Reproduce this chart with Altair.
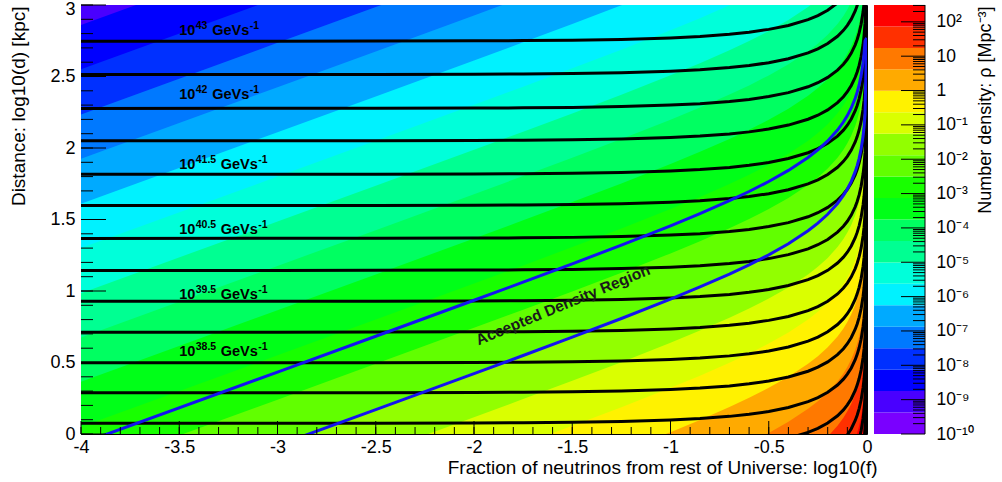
import math
import altair as alt
import pandas as pd

FONT = "Liberation Sans"

# ---------------- data ----------------
# colour bands of the density map (lowest density first, ROOT palette)
BAND_COLORS = ["#7a00ff", "#4900ff", "#0000ff", "#0030ff", "#0079ff", "#00aaff",
               "#00f2ff", "#00ffda", "#00ff92", "#00ff61", "#00ff18", "#18ff00",
               "#61ff00", "#92ff00", "#daff00", "#fff200", "#ffaa00", "#ff7900",
               "#ff3000", "#ff0000"]
# log10(rho) contour levels shown on the colour bar (bottom to top)
CBAR_LEVELS = [-10.0, -9.376, -8.751, -8.127, -7.502, -6.878, -6.253, -5.629,
               -5.004, -4.380, -3.755, -3.131, -2.506, -1.882, -1.257, -0.633,
               -0.008, 0.617, 1.241, 1.866, 2.49]
# contour boundaries in the map: x-offset of each boundary line (slope 0.5)
BAND_OFFSETS = [-10.35, -9.72, -9.10, -8.47, -7.85, -7.22, -6.60, -5.97, -5.35,
                -4.73, -4.10, -3.48, -2.86, -2.23, -1.60, -0.98, -0.35, 0.27, 0.90]
BAND_SLOPE = 0.5
# upturn of every curve towards log10(f) = 0 (rise above its flat level)
RISE_X = [-4.0, -3.0, -2.5, -2.0, -1.75, -1.5, -1.25, -1.0, -0.85, -0.7, -0.6,
          -0.5, -0.4, -0.3, -0.25, -0.2, -0.15, -0.12, -0.1, -0.08, -0.06, -0.05,
          -0.04, -0.03, -0.02, -0.015, -0.01, -0.006, -0.003, -0.001, 0.0]
RISE_Y = [0.0, 0.0002, 0.0007, 0.0022, 0.0039, 0.007, 0.0126, 0.0229, 0.0331,
          0.0483, 0.0628, 0.0826, 0.1102, 0.151, 0.1794, 0.2165, 0.2673, 0.3086,
          0.3434, 0.387, 0.4446, 0.4818, 0.5278, 0.5878, 0.6734, 0.7346, 0.8214,
          0.9313, 1.0812, 1.319, 5.0]
# flat level (left side) of each constant-luminosity curve
LUM_LEVELS = [2.747, 2.514, 2.277, 2.050, 1.816, 1.598, 1.368, 1.144, 0.928,
              0.712, 0.498, 0.288, 0.075, -0.14, -0.35, -0.565, -0.78, -0.995,
              -1.21, -1.42]
# luminosity labels: 10^exp GeVs^-1
LUM_EXPONENTS = ["43", "42", "41.5", "40.5", "39.5", "38.5"]
LUM_LABEL_X = [-3.5, -3.5, -3.5, -3.5, -3.5, -3.5]
LUM_LABEL_Y = [2.79, 2.34, 1.851, 1.397, 0.942, 0.545]
# accepted density region (blue lines): offset of each line, end point at f -> 1
BLUE_OFFSETS = [-3.866, -2.84]
BLUE_LAST_X = -0.01
BLUE_END_X = -0.002
BLUE_END_Y = 2.77
REGION_LABEL = ["Accepted Density Region"]
REGION_X = [-1.547]
REGION_Y = [0.902]
# axes
X_TICKS = [-4, -3.5, -3, -2.5, -2, -1.5, -1, -0.5, 0]
Y_TICKS = [0, 0.5, 1, 1.5, 2, 2.5, 3]
CBAR_TICKS = list(range(-10, 3))
CBAR_TICK_LABELS = ["10\u207b\u00b9\u2070", "10\u207b\u2079", "10\u207b\u2078",
                    "10\u207b\u2077", "10\u207b\u2076", "10\u207b\u2075",
                    "10\u207b\u2074", "10\u207b\u00b3", "10\u207b\u00b2",
                    "10\u207b\u00b9", "1", "10", "10\u00b2"]
X_TITLE = "Fraction of neutrinos from rest of Universe: log10(f)"
Y_TITLE = "Distance: log10(d) [kpc]"
Z_TITLE = "Number density: \u03c1 [Mpc\u207b\u00b3]"

# ---------------- layout ----------------
W, H = 786, 429
CB_W = 51

minus_fix = "replace(format(datum.value, '~g'), '\u2212', '-')"

X_AX = alt.Axis(values=X_TICKS, labelExpr=minus_fix, ticks=False, tickSize=0,
                domain=False, grid=False, labelFontSize=18, labelPadding=4,
                labelFlush=False, labelOverlap=False, labelColor="black",
                title=X_TITLE, titleFontSize=19, titleFontWeight="normal",
                titleX=796, titleY=39, titleAlign="right",
                titleBaseline="alphabetic", titleColor="black")
Y_AX = alt.Axis(values=Y_TICKS, labelExpr=minus_fix, ticks=False, tickSize=0,
                domain=False, grid=False, labelFontSize=18, labelPadding=6,
                labelFlush=False, labelOverlap=False, labelColor="black",
                labelOffset={"condition": {"test": "datum.value == 3", "value": 4},
                             "value": 0},
                title=Y_TITLE, titleFontSize=19, titleFontWeight="normal",
                titleAngle=270, titleX=-63, titleY=1, titleAlign="right",
                titleBaseline="middle", titleColor="black")

xs = alt.Scale(domain=[-4, 0], nice=False, zero=False)
ys = alt.Scale(domain=[0, 3], nice=False, zero=False)
X = alt.X("x:Q", scale=xs, axis=X_AX)
Y = alt.Y("y:Q", scale=ys, axis=Y_AX)

layers = []
for k, off in enumerate(BAND_OFFSETS):
    df = pd.DataFrame({"x": RISE_X,
                       "y": [BAND_SLOPE * (rx - off) + ry for rx, ry in zip(RISE_X, RISE_Y)]})
    layers.append(
        alt.Chart(df).mark_area(clip=True, color=BAND_COLORS[k + 1], opacity=1)
        .encode(x=X, y=Y, y2=alt.datum(0))
    )

lum_rows = []
for i, lev in enumerate(LUM_LEVELS):
    for rx, ry in zip(RISE_X, RISE_Y):
        lum_rows.append({"x": rx, "y": lev + ry, "curve": i})
lum = alt.Chart(pd.DataFrame(lum_rows)).mark_line(
    clip=True, color="black", strokeWidth=3).encode(x=X, y=Y, detail="curve:N")

blue_rows = []
for j, off in enumerate(BLUE_OFFSETS):
    for rx, ry in zip(RISE_X, RISE_Y):
        if rx <= BLUE_LAST_X:
            blue_rows.append({"x": rx, "y": BAND_SLOPE * (rx - off) + ry, "line": j})
    blue_rows.append({"x": BLUE_END_X, "y": BLUE_END_Y, "line": j})
blue = alt.Chart(pd.DataFrame(blue_rows)).mark_line(
    clip=True, color="#1414f0", strokeWidth=3).encode(x=X, y=Y, detail="line:N")

# luminosity labels built from base, exponent, unit and unit exponent
lab_df = pd.DataFrame({"x": LUM_LABEL_X, "y": LUM_LABEL_Y, "exp": LUM_EXPONENTS,
                       "base": ["10"] * len(LUM_EXPONENTS),
                       "unit": ["GeVs"] * len(LUM_EXPONENTS),
                       "uexp": ["-1"] * len(LUM_EXPONENTS),
                       "long": [len(e) > 2 for e in LUM_EXPONENTS]})
lab_base = alt.Chart(lab_df)
lab_layers = [
    lab_base.mark_text(align="left", baseline="alphabetic", fontSize=14.5,
                       fontWeight="bold", color="black").encode(x=X, y=Y, text="base:N"),
    lab_base.mark_text(align="left", baseline="alphabetic", fontSize=10.5,
                       fontWeight="bold", color="black", dx=16.5, dy=-6).encode(
        x=X, y=Y, text="exp:N"),
]
for is_long, dx_unit in ((False, 33.0), (True, 41.5)):
    sub = lab_base.transform_filter(
        "datum.long" if is_long else "!datum.long")
    lab_layers.append(sub.mark_text(align="left", baseline="alphabetic", fontSize=14.5,
                                    fontWeight="bold", color="black", dx=dx_unit).encode(
        x=X, y=Y, text="unit:N"))
    lab_layers.append(sub.mark_text(align="left", baseline="alphabetic", fontSize=10.5,
                                    fontWeight="bold", color="black", dx=dx_unit + 37.5,
                                    dy=-6).encode(x=X, y=Y, text="uexp:N"))

reg_df = pd.DataFrame({"x": REGION_X, "y": REGION_Y, "label": REGION_LABEL})
region = alt.Chart(reg_df).mark_text(
    align="center", baseline="middle", fontSize=15.5, fontWeight="bold", angle=337.5,
    color="#1a1a1a").encode(x=X, y=Y, text="label:N")

x_minor = [round(-4 + 0.1 * i, 2) for i in range(41)]
y_minor = [round(0.1 * i, 2) for i in range(31)]
xt_major = alt.Chart(pd.DataFrame({"x": X_TICKS})).mark_rule(
    color="black", strokeWidth=1).encode(x=X, y=alt.value(H), y2=alt.value(H - 13))
xt_minor = alt.Chart(pd.DataFrame({"x": x_minor})).mark_rule(
    color="black", strokeWidth=1).encode(x=X, y=alt.value(H), y2=alt.value(H - 7))
yt_major = alt.Chart(pd.DataFrame({"y": Y_TICKS})).mark_rule(
    color="black", strokeWidth=1).encode(y=Y, x=alt.value(0), x2=alt.value(25))
yt_minor = alt.Chart(pd.DataFrame({"y": y_minor})).mark_rule(
    color="black", strokeWidth=1).encode(y=Y, x=alt.value(0), x2=alt.value(12))

main = alt.layer(*layers, lum, blue, *lab_layers, region,
                 xt_minor, xt_major, yt_minor, yt_major).properties(
    width=W, height=H,
    view=alt.ViewBackground(fill=BAND_COLORS[0], stroke="black", strokeWidth=1))

# ---------------- colour bar ----------------
cb_label_expr = "[" + ",".join("'%s'" % s for s in CBAR_TICK_LABELS) + "][datum.value + 10]"
CB_AX = alt.Axis(orient="right", values=CBAR_TICKS, labelExpr=cb_label_expr,
                 ticks=False, tickSize=0, domain=False, grid=False,
                 labelFontSize=17.5, labelPadding=11, labelAlign="left",
                 labelFlush=False, labelOverlap=False, labelColor="black",
                 title=Z_TITLE, titleFontSize=18, titleFontWeight="normal",
                 titleAngle=270, titleX=60, titleY=1, titleAlign="right",
                 titleBaseline="middle", titleColor="black")
cys = alt.Scale(domain=[CBAR_LEVELS[0], CBAR_LEVELS[-1]], nice=False, zero=False)
CY = alt.Y("v:Q", scale=cys, axis=CB_AX)

cb_df = pd.DataFrame({"v": CBAR_LEVELS[:-1], "v2": CBAR_LEVELS[1:], "color": BAND_COLORS})
cb_rects = alt.Chart(cb_df).mark_rect().encode(
    y=CY, y2="v2:Q", x=alt.value(0), x2=alt.value(CB_W),
    color=alt.Color("color:N", scale=None))

cb_minor = []
for n in range(-10, 3):
    for m in range(2, 10):
        v = n + math.log10(m)
        if v <= CBAR_LEVELS[-1]:
            cb_minor.append(round(v, 4))
cb_t_major = alt.Chart(pd.DataFrame({"v": CBAR_TICKS})).mark_rule(
    color="black", strokeWidth=1).encode(y=CY, x=alt.value(CB_W - 24), x2=alt.value(CB_W))
cb_t_minor = alt.Chart(pd.DataFrame({"v": cb_minor})).mark_rule(
    color="black", strokeWidth=1).encode(y=CY, x=alt.value(CB_W - 12), x2=alt.value(CB_W))
cb_edge = alt.Chart(pd.DataFrame({"v": [0]})).mark_rule(
    color="black", strokeWidth=1).encode(x=alt.value(CB_W), y=alt.value(0), y2=alt.value(H))

cbar = alt.layer(cb_rects, cb_t_minor, cb_t_major, cb_edge).properties(
    width=CB_W, height=H,
    view=alt.ViewBackground(stroke="transparent"))

chart = alt.hconcat(main, cbar, spacing=7, bounds="flush").properties(
    padding={"left": 8, "top": -1, "right": 4, "bottom": 0},
    background="white",
).configure(font=FONT)

chart.save("out.html", embed_options={"renderer": "svg", "actions": False})
